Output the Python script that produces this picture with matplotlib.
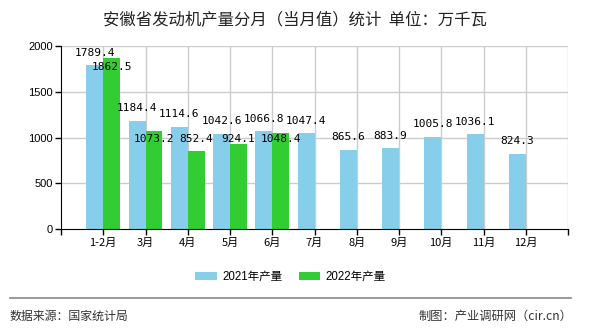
import matplotlib
matplotlib.use("Agg")
import matplotlib.pyplot as plt
from matplotlib.patches import Patch

plt.rcParams['font.family'] = ['Noto Sans CJK SC', 'DejaVu Sans']

categories = ["1-2月", "3月", "4月", "5月", "6月", "7月", "8月", "9月", "10月", "11月", "12月"]
values_2021 = [1789.4, 1184.4, 1114.6, 1042.6, 1066.8, 1047.4, 865.6, 883.9, 1005.8, 1036.1, 824.3]
values_2022 = [1862.5, 1073.2, 852.4, 924.1, 1048.4]
series_names = ["2021年产量", "2022年产量"]
title = "安徽省发动机产量分月（当月值）统计  单位：万千瓦"
yticks = [0, 500, 1000, 1500, 2000]

c21 = "#87CEEB"
c22 = "#32CD32"

fig = plt.figure(figsize=(5.9, 3.3), dpi=100)
ax = fig.add_axes([61/590, 1-229.3/330, (568-61)/590, (229.3-45.7)/330])

x21 = list(range(len(values_2021)))
x22 = list(range(len(values_2022)))
w = 0.4
ax.bar(x21, values_2021, width=-w, align='edge', color=c21, zorder=2)
ax.bar(x22, values_2022, width=w, align='edge', color=c22, zorder=2)

ax.set_xlim(-1, 11)
ax.set_ylim(0, 2000)

# grid
for xv in range(0, 12):
    ax.axvline(xv, color="#cccccc", lw=1, zorder=1)
for yv in yticks[1:]:
    ax.axhline(yv, color="#cccccc", lw=1, zorder=1)

for s in ['top', 'right']:
    ax.spines[s].set_visible(False)
ax.spines['left'].set_color('black')
ax.spines['bottom'].set_color('black')
ax.spines['left'].set_zorder(3)
ax.spines['bottom'].set_zorder(3)

ax.set_yticks(yticks)
ax.set_yticklabels([str(v) for v in yticks], fontsize=8, family=['Liberation Sans', 'DejaVu Sans'])
ax.set_xticks(list(range(-1, 12)))
ax.set_xticklabels([""] + categories + [""], fontsize=8)
ax.tick_params(axis='both', length=4, width=1, color='black', pad=2)

mono = ['DejaVu Sans Mono']
for x, v in zip(x21, values_2021):
    ax.annotate(f"{v:.1f}", (x - w/2, v), xytext=(0, 9), textcoords='offset points',
                ha='center', va='center', fontsize=8, family=mono, zorder=4)
for x, v in zip(x22, values_2022):
    ax.annotate(f"{v:.1f}", (x + w/2, max(v, 1070)), xytext=(0, -6), textcoords='offset points',
                ha='center', va='center', fontsize=8, family=mono, zorder=4)

fig.text(295/590, 1-20/330, title, ha='center', va='center', fontsize=11.8, color='#222222')

handles = [Patch(facecolor=c21, edgecolor='none'), Patch(facecolor=c22, edgecolor='none')]
fig.legend(handles, series_names, loc='center', bbox_to_anchor=(290.5/590, 1-277/330), ncol=2,
           frameon=False, handlelength=1.9, handleheight=0.7, handletextpad=0.45,
           columnspacing=1.4, prop={'family': ['Liberation Sans', 'Noto Sans CJK SC'], 'size': 8.3})

fig.add_artist(plt.Line2D([10/590, 571/590], [1-297.5/330, 1-297.5/330], color='#888888', lw=1.2))
fig.text(10/590, 1-316/330, "数据来源：国家统计局", ha='left', va='center', fontsize=8.6, color='#333333')
fig.text(572/590, 1-316/330, "制图：产业调研网（cir.cn）", ha='right', va='center', fontsize=8.8, color='#333333')

fig.savefig("out.png", dpi=100)
